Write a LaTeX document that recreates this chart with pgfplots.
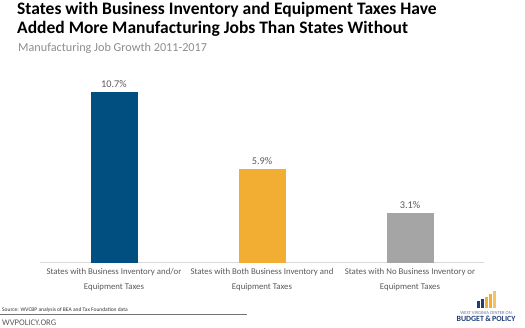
\documentclass[border=0pt]{standalone}
\usepackage{pgfplots}
\pgfplotsset{compat=1.18}
\usepackage{fontspec}
\setmainfont{Carlito}
\definecolor{barblue}{RGB}{0,79,128}
\definecolor{barorange}{RGB}{242,174,51}
\definecolor{bargray}{RGB}{165,165,165}
\definecolor{txtgray}{RGB}{89,89,89}
\definecolor{subgray}{RGB}{140,140,140}
\definecolor{axgray}{RGB}{217,217,217}
\definecolor{logoblue}{RGB}{30,60,120}
\begin{document}
\begin{tikzpicture}[x=1pt,y=1pt]
\path[use as bounding box] (0,0) rectangle (525,328);
% title
\node[anchor=north west,inner sep=0pt,align=left,font=\fontsize{17.5}{19.5}\selectfont\bfseries] at (17,326) {States with Business Inventory and Equipment Taxes Have\\Added More Manufacturing Jobs Than States Without};
\node[anchor=north west,inner sep=0pt,font=\fontsize{12.2}{14}\selectfont,text=subgray] at (18,285) {Manufacturing Job Growth 2011-2017};
\begin{axis}[
  at={(114pt,65.3pt)}, anchor=origin,
  scale only axis, width=444pt, height=180pt,
  xmin=-0.5, xmax=2.5, ymin=0, ymax=11.3,
  axis y line=none, axis x line*=bottom,
  axis line style={axgray, line width=0.8pt},
  x axis line style={-},
  xtick={0,1,2}, major tick length=0pt,
  xticklabels={{States with Business Inventory and/or\\Equipment Taxes},{States with Both Business Inventory and\\Equipment Taxes},{States with No Business Inventory or\\Equipment Taxes}},
  xticklabel style={align=center, font=\fontsize{8.8}{15}\selectfont, text=txtgray, yshift=-2pt},
  ybar, bar width=47pt, bar shift=0pt,
  /pgf/number format/assume math mode=true,
  nodes near coords={\pgfmathprintnumber[fixed,precision=1,fixed zerofill]{\pgfplotspointmeta}\%},
  nodes near coords style={font=\fontsize{10.3}{12}\selectfont, text=txtgray, yshift=1pt},
  clip=false,
]
\addplot[fill=barblue, draw=none] coordinates {(0,10.7)};
\addplot[fill=barorange, draw=none] coordinates {(1,5.9)};
\addplot[fill=bargray, draw=none] coordinates {(2,3.1)};
\end{axis}
% source
\node[anchor=base west,inner sep=0pt,font=\fontsize{5.5}{7}\selectfont,text=black!80] at (2,16.5) {Source: WVCBP analysis of BEA and Tax Foundation data};
\draw[black!55,line width=0.5pt] (0,14) -- (247,14);
\node[anchor=base west,inner sep=0pt,font=\fontsize{8.6}{9}\selectfont,text=txtgray] at (2,2.5) {WVPOLICY.ORG};
% logo
\fill[logoblue] (477,20) rectangle (480,27);
\fill[logoblue] (481,20) rectangle (484,29);
\fill[barorange] (485,20) rectangle (488,31);
\fill[barorange] (489,20) rectangle (492,33.5);
\fill[barorange!75] (493,20) rectangle (496,36.5);
\node[anchor=base,inner sep=0pt,font=\fontsize{4.6}{5}\selectfont,text=logoblue!70] at (486,13.2) {WEST VIRGINIA CENTER ON};
\node[anchor=base,inner sep=0pt,font=\fontsize{7.9}{8}\selectfont\bfseries,text=logoblue] at (486,6.3) {BUDGET\,\&\,POLICY};
\end{tikzpicture}
\end{document}
